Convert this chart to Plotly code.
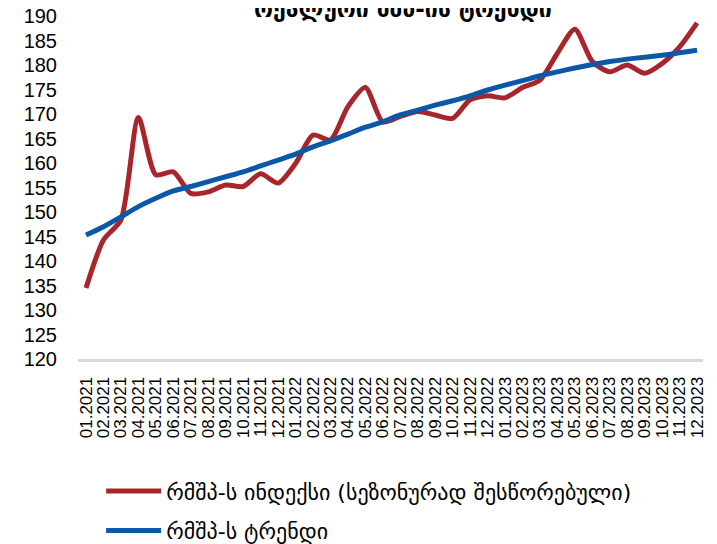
import plotly.graph_objects as go

# monthly labels 01.2021 .. 12.2023
months = [f"{m:02d}.{y}" for y in (2021, 2022, 2023) for m in range(1, 13)]

# seasonally adjusted real GDP index
gdp_index = [
    134.5, 144.3, 148.4, 169.3, 157.6, 158.2, 153.8, 154.1, 155.5, 155.2, 157.8, 155.9,
    159.9, 165.7, 164.7, 171.5, 175.4, 168.4, 169.5, 170.5, 169.8, 169.1, 172.9, 173.7,
    173.3, 175.4, 176.9, 182.4, 187.3, 180.7, 178.6, 180.0, 178.3, 180.3, 183.7, 188.6,
]

# trend
gdp_trend = [
    145.3, 147.0, 149.0, 151.1, 152.8, 154.3, 155.2, 156.2, 157.2, 158.2, 159.4, 160.6,
    161.8, 163.3, 164.5, 165.9, 167.3, 168.4, 169.8, 170.8, 171.8, 172.7, 173.7, 174.9,
    175.9, 176.8, 177.8, 178.6, 179.4, 180.1, 180.7, 181.2, 181.6, 182.0, 182.5, 183.0,
]

y_ticks = list(range(120, 191, 5))

FONT = "Liberation Sans, Arial, DejaVu Sans, sans-serif"

fig = go.Figure()

fig.add_trace(go.Scatter(
    x=months,
    y=gdp_index,
    mode='lines',
    name='რმშპ-ს ინდექსი (სეზონურად შესწორებული)',
    legendgroup='a',
    line=dict(color='#A8262B', width=5, shape='spline', smoothing=0.7),
))

fig.add_trace(go.Scatter(
    x=months,
    y=gdp_trend,
    mode='lines',
    name='რმშპ-ს ტრენდი',
    legendgroup='b',
    line=dict(color='#0B57A8', width=5, shape='spline', smoothing=0.7),
))

fig.add_annotation(
    text='<b>რეალური მშპ-ის ტრენდი</b>',
    xref='paper', yref='paper',
    x=0.52, y=1, yanchor='bottom', yshift=-8,
    showarrow=False,
    font=dict(size=23, color='black', family='DejaVu Sans, sans-serif'),
)

# page body has an 8px margin, so the figure is drawn 8px smaller
fig.update_layout(
    width=709,
    height=536,
    margin=dict(l=70, r=14, t=8, b=185, autoexpand=False),
    paper_bgcolor='white',
    plot_bgcolor='white',
    font=dict(family=FONT, color='black'),
    showlegend=True,
    legend=dict(
        x=0.037, y=-0.324, xanchor='left', yanchor='top',
        font=dict(size=22, family='DejaVu Sans, sans-serif'),
        tracegroupgap=8,
        itemwidth=55,
        bgcolor='rgba(0,0,0,0)',
    ),
    xaxis=dict(
        type='category',
        range=[-0.46, 35.34],
        tickmode='array',
        tickvals=months,
        tickangle=-90,
        tickfont=dict(size=17),
        showgrid=False,
        showline=True,
        linecolor='#D9D9D9',
        linewidth=3,
        ticks='',
        ticklabelstandoff=8,
        automargin=False,
    ),
    yaxis=dict(
        range=[120, 190],
        tickvals=y_ticks,
        tickfont=dict(size=20),
        showgrid=False,
        zeroline=False,
        showline=False,
        ticks='',
        ticklabelstandoff=20,
        ticklabeloverflow='allow',
        automargin=False,
    ),
)

fig.write_html("out.html")
